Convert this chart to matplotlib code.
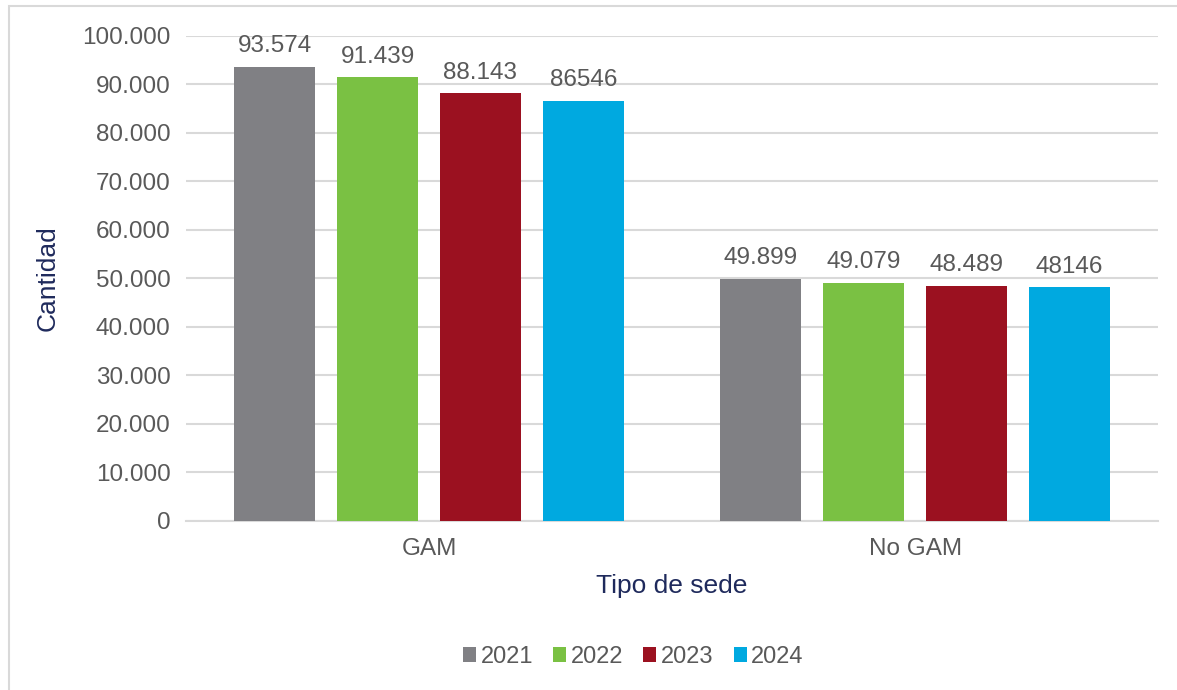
import matplotlib.pyplot as plt
import numpy as np
from matplotlib.patches import Rectangle
from matplotlib.ticker import FuncFormatter

plt.rcParams['font.family'] = ['Liberation Sans', 'DejaVu Sans']

categories = ["GAM", "No GAM"]
years = ["2021", "2022", "2023", "2024"]
values = {
    "2021": [93574, 49899],
    "2022": [91439, 49079],
    "2023": [88143, 48489],
    "2024": [86546, 48146],
}
# labels as they appear on the chart (some without thousands separator)
labels = {
    "2021": ["93.574", "49.899"],
    "2022": ["91.439", "49.079"],
    "2023": ["88.143", "48.489"],
    "2024": ["86546", "48146"],
}
colors = ["#808084", "#7AC143", "#9B1120", "#00A9E0"]

text_gray = "#595959"
navy = "#1F2A5C"
grid_gray = "#D9D9D9"

fig = plt.figure(figsize=(11.77, 6.90), dpi=100)
ax = fig.add_axes([0.158, 0.245, 0.826, 0.703])

# outer chart frame (partly cut off like the reference)
fig.patches.append(Rectangle((9 / 1177, -0.05), 1.2, 0.05 + (690 - 6) / 690,
                             transform=fig.transFigure, fill=False,
                             edgecolor=grid_gray, linewidth=1.5))

x = np.arange(len(categories))
step = 0.2115
width = 0.167
for i, yr in enumerate(years):
    pos = x + (i - 1.5) * step
    bars = ax.bar(pos, values[yr], width, color=colors[i], label=yr, zorder=3)
    for b, lab in zip(bars, labels[yr]):
        ax.text(b.get_x() + b.get_width() / 2, b.get_height() + 2000, lab,
                ha='center', va='bottom', fontsize=17.5, color=text_gray)

ax.set_xlim(-0.5, 1.5)
ax.set_ylim(0, 100000)
ax.set_yticks(np.arange(0, 100001, 10000))
ax.yaxis.set_major_formatter(FuncFormatter(lambda v, p: f"{int(v):,}".replace(",", ".")))
ax.set_xticks(x)
ax.set_xticklabels(categories)
ax.tick_params(axis='both', length=0, labelsize=17.5, labelcolor=text_gray)
ax.tick_params(axis='y', pad=11)
ax.tick_params(axis='x', pad=12)
ax.grid(axis='y', color=grid_gray, linewidth=1.5, zorder=0)
for s in ['top', 'right', 'left']:
    ax.spines[s].set_visible(False)
ax.spines['bottom'].set_color(grid_gray)
ax.spines['bottom'].set_linewidth(1.5)

ax.set_ylabel("Cantidad", fontsize=19, color=navy, labelpad=16)
ax.set_xlabel("Tipo de sede", fontsize=19, color=navy, labelpad=10)

ax.legend(loc='center', bbox_to_anchor=(0.538, 0.048), bbox_transform=fig.transFigure,
          ncol=4, frameon=False, fontsize=17, handlelength=0.55, handleheight=0.55,
          handletextpad=0.2, columnspacing=0.85, labelcolor=text_gray)

fig.savefig("out.png", dpi=100)
